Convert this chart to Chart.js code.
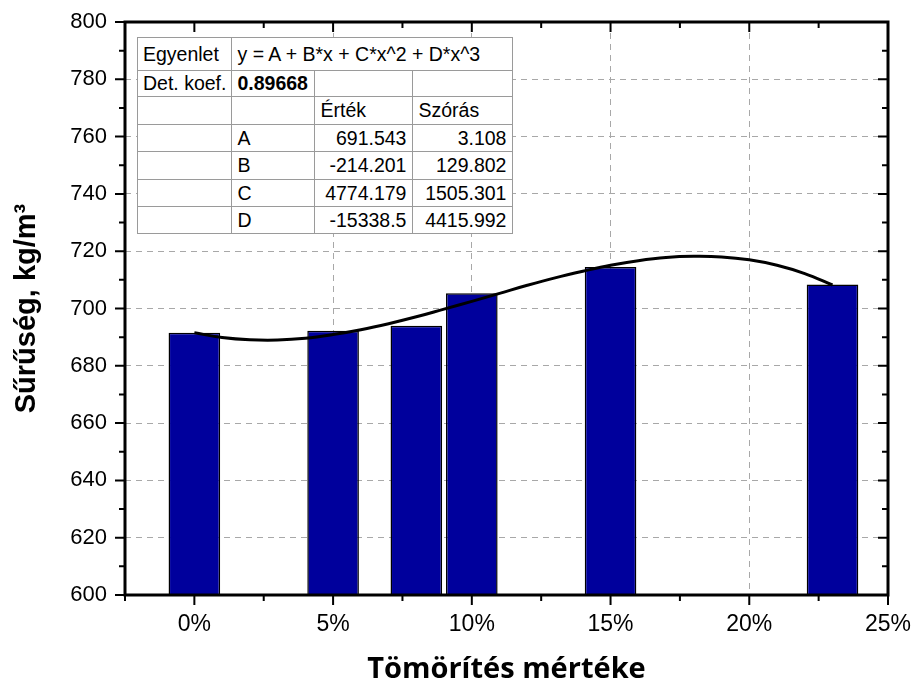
<!DOCTYPE html>
<html>
<head>
<meta charset="utf-8">
<script src="https://cdn.jsdelivr.net/npm/chart.js@4"></script>
<style>
  html, body { margin: 0; padding: 0; background: #fff; }
  #wrap { position: relative; width: 916px; height: 687px; }
  canvas { position: absolute; left: 0; top: 0; }
  #fit {
    position: absolute; left: 137px; top: 37px;
    border-collapse: collapse; background: #fff; table-layout: fixed;
    font-family: "Liberation Sans", Arial, sans-serif; font-size: 19.5px; color: #000;
  }
  #fit td { border: 1px solid #9a9a9a; padding: 0 5px; white-space: nowrap; overflow: hidden; }
  #fit td.num { text-align: right; padding-right: 6px; }
</style>
</head>
<body>
<div id="wrap">
  <canvas id="c" width="916" height="687"></canvas>
  <table id="fit"></table>
</div>
<script>
// tömörítés mértéke (%) és sűrűség (kg/m3)
const barX = [0, 5, 8, 10, 15, 23];
const barY = [691.5, 692.2, 694.0, 705.3, 714.5, 708.4];

// illesztett görbe
const fitX = [0, 1, 2, 3, 4, 5, 6, 7, 8, 9, 10, 11, 12, 13, 14, 15, 16, 17, 18, 19, 20, 21, 22, 23];
const fitY = [691.5, 689.9, 689.1, 689.0, 689.6, 690.9, 692.6, 694.7, 697.1, 699.8, 702.5, 705.3,
              708.1, 710.7, 713.0, 715.1, 716.7, 717.8, 718.2, 718.0, 717.0, 715.1, 712.2, 708.2];

const xTicks = [0, 5, 10, 15, 20, 25];
const xMinor = [-2.5, 2.5, 7.5, 12.5, 17.5, 22.5];
const yTicks = [600, 620, 640, 660, 680, 700, 720, 740, 760, 780, 800];
const yMinor = [610, 630, 650, 670, 690, 710, 730, 750, 770, 790];

// táblázat
const tblEquation = "y = A + B*x + C*x^2 + D*x^3";
const tblR2 = "0.89668";
const tblParams = ["A", "B", "C", "D"];
const tblValues = ["691.543", "-214.201", "4774.179", "-15338.5"];
const tblErrors = ["3.108", "129.802", "1505.301", "4415.992"];

const colW = [93, 83, 98, 100];
const rowH = [33, 26, 28, 27, 28, 27, 27];

// ---- táblázat felépítése ----
const tbl = document.getElementById("fit");
const rows = [
  [["Egyenlet", ""], [tblEquation, "", 3]],
  [["Det. koef.", ""], ["<b>" + tblR2 + "</b>", ""], ["", ""], ["", ""]],
  [["", ""], ["", ""], ["Érték", ""], ["Szórás", ""]],
];
tblParams.forEach((p, i) => {
  rows.push([["", ""], [p, ""], [tblValues[i], "num"], [tblErrors[i], "num"]]);
});
let html = "<colgroup>" + colW.map((w) => `<col style="width:${w}px">`).join("") + "</colgroup>";
rows.forEach((r, ri) => {
  html += `<tr style="height:${rowH[ri]}px">`;
  r.forEach(([txt, cls, span]) => {
    html += `<td class="${cls}"${span ? ` colspan="${span}"` : ""}>${txt}</td>`;
  });
  html += "</tr>";
});
tbl.innerHTML = html;

// ---- keret és osztásjelek ----
const framePlugin = {
  id: "frame",
  afterDraw(chart) {
    const { ctx, chartArea: a, scales } = chart;
    const xs = scales.x, ys = scales.y;
    ctx.save();
    ctx.strokeStyle = "#000";
    ctx.lineWidth = 2;
    ctx.beginPath();
    const tick = (x1, y1, x2, y2) => { ctx.moveTo(x1, y1); ctx.lineTo(x2, y2); };
    xTicks.forEach((v) => {
      const px = xs.getPixelForValue(v);
      tick(px, a.bottom, px, a.bottom + 10);
      tick(px, a.top, px, a.top + 10);
    });
    xMinor.forEach((v) => {
      const px = xs.getPixelForValue(v);
      tick(px, a.bottom, px, a.bottom + 6);
      tick(px, a.top, px, a.top + 6);
    });
    yTicks.forEach((v) => {
      const py = ys.getPixelForValue(v);
      tick(a.left - 10, py, a.left, py);
      tick(a.right - 10, py, a.right, py);
    });
    yMinor.forEach((v) => {
      const py = ys.getPixelForValue(v);
      tick(a.left - 6, py, a.left, py);
      tick(a.right - 6, py, a.right, py);
    });
    ctx.stroke();
    ctx.lineWidth = 3;
    ctx.strokeRect(a.left, a.top, a.right - a.left, a.bottom - a.top);
    ctx.restore();
  },
};

const gridColor = (c) => {
  const v = c.tick && c.tick.value;
  if (v === undefined) return "transparent";
  if (c.scale.axis === "x") return v > 0 && v < 25 ? "#a8a8a8" : "transparent";
  return v > 600 && v < 800 ? "#a8a8a8" : "transparent";
};

new Chart(document.getElementById("c"), {
  data: {
    datasets: [
      {
        type: "line",
        data: fitX.map((x, i) => ({ x, y: fitY[i] })),
        borderColor: "#000",
        borderWidth: 3,
        pointRadius: 0,
        tension: 0.4,
        fill: false,
        order: 0,
      },
      {
        type: "bar",
        data: barX.map((x, i) => ({ x, y: barY[i] })),
        backgroundColor: "#00009c",
        borderColor: "#000",
        borderWidth: 1.5,
        borderSkipped: false,
        barPercentage: 0.93,
        categoryPercentage: 1,
        order: 1,
      },
    ],
  },
  options: {
    responsive: false,
    animation: false,
    layout: { padding: { left: 0, right: 28, top: 22, bottom: 0 } },
    plugins: { legend: { display: false }, tooltip: { enabled: false } },
    scales: {
      x: {
        type: "linear",
        min: -2.5,
        max: 25,
        offset: false,
        afterBuildTicks: (s) => { s.ticks = xTicks.map((v) => ({ value: v })); },
        afterFit: (s) => {
          s.height = 92;
          s.paddingLeft = 0;
          s.paddingRight = 0;
        },
        grid: { offset: false, color: gridColor, lineWidth: 1, drawTicks: false, tickLength: 0 },
        border: { display: false, dash: [6, 5] },
        ticks: {
          padding: 16,
          color: "#000",
          font: { family: "Liberation Sans", size: 23 },
          callback: (v) => v + "%",
          maxRotation: 0,
        },
        title: {
          display: true,
          text: "Tömörítés mértéke",
          color: "#000",
          font: { family: "Open Sans", size: 29, weight: "bold" },
          padding: { top: 22, bottom: 0 },
        },
      },
      y: {
        min: 600,
        max: 800,
        afterBuildTicks: (s) => { s.ticks = yTicks.map((v) => ({ value: v })); },
        afterFit: (s) => {
          s.width = 125;
          s.paddingTop = 0;
          s.paddingBottom = 0;
        },
        grid: { color: gridColor, lineWidth: 1, drawTicks: false, tickLength: 0 },
        border: { display: false, dash: [6, 5] },
        ticks: {
          padding: 18,
          color: "#000",
          font: { family: "Liberation Sans", size: 22 },
        },
        title: {
          display: true,
          text: "Sűrűség, kg/m³",
          color: "#000",
          font: { family: "Liberation Sans", size: 29, weight: "bold" },
          padding: { top: 10, bottom: 0 },
        },
      },
    },
  },
  plugins: [framePlugin],
});
</script>
</body>
</html>
